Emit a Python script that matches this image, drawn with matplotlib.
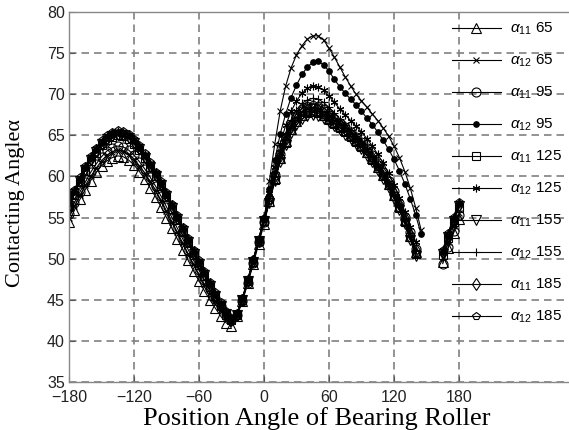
import numpy as np
import matplotlib
matplotlib.use('Agg')
import matplotlib.pyplot as plt

plt.rcParams['font.family'] = ['Liberation Sans', 'DejaVu Sans']
plt.rcParams['mathtext.fontset'] = 'custom'
plt.rcParams['mathtext.rm'] = 'Liberation Sans'
plt.rcParams['mathtext.it'] = 'Liberation Sans:italic'
plt.rcParams['mathtext.bf'] = 'Liberation Sans:bold'

nan = float('nan')

# Position angle samples (deg): loaded zone and the short segment near 180
angle_main = list(range(-180, 150, 5))
angle_tail = [165, 170, 175, 180]

series_labels = [r'$\alpha_{11}$ 65', r'$\alpha_{12}$ 65', r'$\alpha_{11}$ 95', r'$\alpha_{12}$ 95',
                 r'$\alpha_{11}$ 125', r'$\alpha_{12}$ 125', r'$\alpha_{11}$ 155', r'$\alpha_{12}$ 155',
                 r'$\alpha_{11}$ 185', r'$\alpha_{12}$ 185']

a11_65 = [54.5, 55.9, 57.2, 58.4, 59.5, 60.5, 61.3, 61.9, 62.3, 62.5, 62.4, 62.0, 61.4, 60.6, 59.7, 58.6, 57.5, 56.3, 55.0, 53.7, 52.4, 51.1, 49.8, 48.5, 47.3, 46.1, 45.0, 44.0, 43.0, 42.2, 41.8, 43.0, 44.8, 47.0, 49.3, 51.8, 54.2,
          57.0, 59.8, 62.3, 64.3, 65.8, 66.8, 67.5, 67.9, 68.0, 67.9, 67.5, 67.1, 66.6, 66.1, 65.6, 65.0, 64.4, 63.8, 63.0, 62.2, 61.2, 60.2, 59.1, 57.8, 56.4, 54.7, 52.8, 50.8, nan,
          49.6, 51.3, 53.1, 54.8]
a12_65 = [55.0, 56.4, 57.7, 58.9, 60.0, 61.0, 61.9, 62.6, 63.0, 63.2, 63.1, 62.7, 62.1, 61.3, 60.4, 59.4, 58.3, 57.1, 55.8, 54.5, 53.2, 51.9, 50.6, 49.3, 48.1, 46.9, 45.8, 44.8, 43.8, 43.0, 42.5, 43.2, 45.0, 47.2, 49.6, 52.1, 54.6,
          59.5, 64.0, 68.0, 71.0, 73.2, 74.8, 75.9, 76.7, 77.1, 77.1, 76.6, 75.6, 74.5, 73.3, 72.1, 71.0, 70.0, 69.2, 68.4, 67.6, 66.8, 65.9, 64.9, 63.7, 62.3, 60.6, 58.6, 56.2, 53.5,
          50.2, 52.0, 54.0, 55.5]
a11_95 = [55.4, 56.8, 58.1, 59.3, 60.5, 61.5, 62.4, 63.1, 63.5, 63.7, 63.6, 63.2, 62.6, 61.8, 60.9, 59.9, 58.8, 57.6, 56.3, 55.0, 53.7, 52.4, 51.1, 49.8, 48.6, 47.4, 46.3, 45.2, 44.2, 43.3, 42.6, 43.1, 44.9, 47.1, 49.5, 52.0, 54.5,
          57.3, 60.2, 62.7, 64.7, 66.2, 67.2, 67.9, 68.3, 68.4, 68.3, 67.9, 67.5, 67.0, 66.5, 66.0, 65.4, 64.8, 64.2, 63.4, 62.6, 61.6, 60.6, 59.5, 58.2, 56.8, 55.1, 53.2, 51.2, nan,
          49.4, 51.4, 53.4, 55.3]
a12_95 = [56.6, 58.1, 59.6, 61.0, 62.2, 63.2, 64.1, 64.7, 65.1, 65.3, 65.2, 64.9, 64.3, 63.5, 62.5, 61.4, 60.3, 59.1, 57.8, 56.4, 55.0, 53.6, 52.2, 50.8, 49.5, 48.2, 46.9, 45.6, 44.4, 43.3, 42.6, 43.3, 45.1, 47.4, 49.7, 52.2, 54.8,
          58.5, 62.0, 65.2, 67.6, 69.6, 71.1, 72.4, 73.3, 73.9, 74.0, 73.6, 72.8, 71.8, 70.9, 70.1, 69.4, 68.7, 67.9, 67.1, 66.3, 65.4, 64.4, 63.3, 62.1, 60.7, 59.1, 57.3, 55.3, 53.0,
          50.8, 52.8, 54.8, 56.6]
a11_125 = [56.3, 57.8, 59.3, 60.7, 61.9, 62.9, 63.8, 64.4, 64.8, 65.0, 64.9, 64.6, 64.0, 63.2, 62.2, 61.1, 60.0, 58.8, 57.5, 56.1, 54.7, 53.3, 51.9, 50.5, 49.2, 47.9, 46.6, 45.4, 44.2, 43.2, 42.5, 43.2, 45.0, 47.3, 49.6, 52.1, 54.6,
           56.9, 59.6, 62.1, 64.1, 65.6, 66.6, 67.3, 67.7, 67.8, 67.7, 67.3, 66.9, 66.4, 65.9, 65.4, 64.8, 64.2, 63.6, 62.8, 62.0, 61.0, 60.0, 58.9, 57.6, 56.2, 54.5, 52.6, 50.6, nan,
           50.5, 52.5, 54.5, 56.2]
a12_125 = [56.8, 58.3, 59.8, 61.2, 62.4, 63.4, 64.3, 64.9, 65.3, 65.5, 65.4, 65.1, 64.5, 63.7, 62.7, 61.6, 60.5, 59.3, 58.0, 56.6, 55.2, 53.8, 52.4, 51.0, 49.7, 48.4, 47.1, 45.8, 44.6, 43.5, 42.7, 43.3, 45.1, 47.4, 49.8, 52.3, 54.9,
           58.0, 61.2, 64.0, 66.2, 67.9, 69.2, 70.1, 70.7, 71.0, 70.9, 70.5, 69.8, 69.0, 68.2, 67.5, 66.8, 66.1, 65.4, 64.6, 63.7, 62.7, 61.6, 60.4, 59.0, 57.4, 55.7, 53.9, 52.0, nan,
           51.0, 53.0, 55.0, 56.8]
a11_155 = [56.4, 57.9, 59.4, 60.8, 62.0, 63.0, 63.9, 64.5, 64.9, 65.1, 65.0, 64.7, 64.1, 63.3, 62.3, 61.2, 60.1, 58.9, 57.6, 56.2, 54.8, 53.4, 52.0, 50.6, 49.3, 48.0, 46.7, 45.5, 44.3, 43.3, 42.5, 43.2, 45.0, 47.3, 49.6, 52.1, 54.6,
           56.8, 59.4, 61.8, 63.8, 65.3, 66.3, 67.0, 67.4, 67.5, 67.4, 67.0, 66.6, 66.1, 65.6, 65.1, 64.5, 63.9, 63.3, 62.5, 61.7, 60.7, 59.7, 58.6, 57.3, 55.9, 54.2, 52.3, 50.3, nan,
           50.6, 52.6, 54.6, 56.4]
a12_155 = [56.7, 58.2, 59.7, 61.1, 62.3, 63.3, 64.2, 64.8, 65.2, 65.4, 65.3, 65.0, 64.4, 63.6, 62.6, 61.5, 60.4, 59.2, 57.9, 56.5, 55.1, 53.7, 52.3, 50.9, 49.6, 48.3, 47.0, 45.7, 44.5, 43.4, 42.7, 43.3, 45.1, 47.4, 49.8, 52.3, 54.8,
           57.6, 60.6, 63.2, 65.3, 66.9, 68.1, 68.9, 69.3, 69.5, 69.4, 69.0, 68.4, 67.7, 67.0, 66.3, 65.6, 64.9, 64.2, 63.4, 62.5, 61.5, 60.4, 59.2, 57.8, 56.3, 54.6, 52.8, 51.0, nan,
           50.9, 52.9, 54.9, 56.7]
a11_185 = [56.5, 58.0, 59.5, 60.9, 62.1, 63.1, 64.0, 64.6, 65.0, 65.2, 65.1, 64.8, 64.2, 63.4, 62.4, 61.3, 60.2, 59.0, 57.7, 56.3, 54.9, 53.5, 52.1, 50.7, 49.4, 48.1, 46.8, 45.5, 44.3, 43.3, 42.6, 43.2, 45.0, 47.3, 49.7, 52.2, 54.7,
           57.2, 60.0, 62.5, 64.5, 66.0, 67.0, 67.7, 68.1, 68.2, 68.1, 67.7, 67.3, 66.8, 66.3, 65.8, 65.2, 64.6, 64.0, 63.2, 62.4, 61.4, 60.4, 59.3, 58.0, 56.6, 54.9, 53.0, 51.0, nan,
           50.7, 52.7, 54.7, 56.5]
a12_185 = [56.9, 58.4, 59.9, 61.3, 62.5, 63.5, 64.4, 65.0, 65.4, 65.6, 65.5, 65.2, 64.6, 63.8, 62.8, 61.7, 60.6, 59.4, 58.1, 56.7, 55.3, 53.9, 52.5, 51.1, 49.8, 48.5, 47.2, 45.9, 44.7, 43.6, 42.8, 43.4, 45.2, 47.5, 49.9, 52.4, 54.9,
           57.4, 60.3, 62.9, 64.9, 66.4, 67.6, 68.3, 68.7, 68.8, 68.7, 68.3, 67.8, 67.2, 66.6, 66.0, 65.3, 64.6, 63.9, 63.1, 62.2, 61.2, 60.1, 58.9, 57.5, 56.0, 54.3, 52.5, 50.7, nan,
           51.1, 53.1, 55.1, 56.9]

all_series = [a11_65, a12_65, a11_95, a12_95, a11_125, a12_125, a11_155, a12_155, a11_185, a12_185]

x_ticks = [-180, -120, -60, 0, 60, 120, 180]
y_ticks = [35, 40, 45, 50, 55, 60, 65, 70, 75, 80]

# marker styles (MATLAB-like)
styles = [
    dict(marker='^', ms=6.5, mfc='none'),
    dict(marker='x', ms=4.5, mfc='none'),
    dict(marker='o', ms=6.5, mfc='none'),
    dict(marker='o', ms=4.0, mfc='black'),
    dict(marker='s', ms=6, mfc='none'),
    dict(marker=(6, 2, 0), ms=5.5, mfc='none'),
    dict(marker='v', ms=6.5, mfc='none'),
    dict(marker='+', ms=5.5, mfc='none'),
    dict(marker='d', ms=6.5, mfc='none'),
    dict(marker='p', ms=6, mfc='none'),
]

W, H = 569, 430
fig = plt.figure(figsize=(W / 100, H / 100), dpi=100)
ax = fig.add_axes([69 / W, 48 / H, 512 / W, 370 / H])

n_main = len(angle_main)
for vals, lab, st in zip(all_series, series_labels, styles):
    main = np.array(vals[:n_main], dtype=float)
    tail = np.array(vals[n_main:], dtype=float)
    ax.plot(angle_main, main, color='black', lw=0.8, mec='black', mew=0.8, label=lab, **st)
    ax.plot(angle_tail, tail, color='black', lw=0.8, mec='black', mew=0.8, **st)

ax.set_xlim(-180, -180 + 512 * 60 / 65)
ax.set_ylim(35, 80)
ax.set_xticks(x_ticks)
ax.set_yticks(y_ticks)
ax.tick_params(direction='in', length=4, width=0.8, colors='#555555', labelsize=11.5,
               labelcolor='#222222')
ax.tick_params(axis='x', pad=6)
ax.tick_params(axis='y', pad=3)
ax.grid(True, color='#808080', linestyle=(0, (4.5, 3)), linewidth=1.2)
ax.set_axisbelow(True)
for s in ['top', 'left', 'bottom']:
    ax.spines[s].set_color('#888888')
    ax.spines[s].set_linewidth(1.0)
ax.spines['right'].set_visible(False)

leg = ax.legend(loc='upper left', bbox_to_anchor=(452 / W, 1 - 21 / H), bbox_transform=fig.transFigure,
                frameon=False, fontsize=11, numpoints=1, handlelength=3.2, handletextpad=0.6,
                labelspacing=1.02, borderpad=0, borderaxespad=0)

fig.text(317 / W, 1 - 425 / H, 'Position Angle of Bearing Roller', family='Liberation Serif',
         fontsize=19, ha='center', va='baseline')
fig.text(16 / W, 1 - 203 / H, 'Contacting Angleα', family='Liberation Serif',
         fontsize=16, ha='center', va='center', rotation=90)

fig.savefig('out.png', dpi=100)
